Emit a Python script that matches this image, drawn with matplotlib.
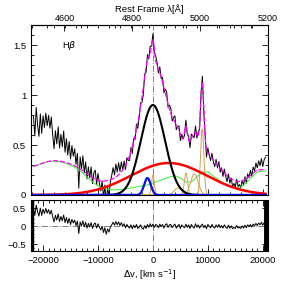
import numpy as np
import matplotlib
matplotlib.use("Agg")
import matplotlib.pyplot as plt
from matplotlib.ticker import MultipleLocator, FixedLocator

plt.rcParams["font.family"] = ["Liberation Sans", "DejaVu Sans"]

C_KMS = 299792.458
LAM0 = 4861.33

# spectrum sampling (km/s)
v_start = -21750
v_step = 250

# residual (data - model)
resid = [
    0.50, 0.30, 0.58, 0.40, 0.28, 0.50, 0.30, 0.47, 0.35, 0.49,
    0.36, 0.46, 0.33, 0.44, 0.26, 0.12, 0.30, 0.17, 0.34, 0.13,
    0.27, 0.15, 0.31, 0.10, 0.24, 0.08, 0.22, 0.05, 0.19, 0.09,
    0.17, 0.02, 0.14, -0.20, 0.12, 0.01, 0.15, -0.01, 0.11, -0.05,
    0.08, -0.02, 0.10, -0.06, 0.06, 0.09, -0.05, 0.07, -0.02, -0.10,
    0.00, -0.17, -0.04, -0.22, -0.07, -0.16, -0.02, 0.04, 0.11, 0.03,
    0.13, 0.04, 0.12, 0.02, 0.10, 0.00, 0.07, -0.04, 0.05, -0.01,
    -0.05, 0.04, -0.07, 0.03, -0.04, 0.05, -0.06, -0.02, 0.04, -0.05,
    -0.08, 0.02, -0.06, 0.05, -0.03, 0.07, -0.01, 0.06, -0.03, 0.05,
    0.03, -0.04, 0.06, -0.01, 0.05, -0.05, 0.04, 0.07, -0.03, 0.04,
    0.05, -0.04, 0.02, 0.06, -0.05, 0.01, 0.05, -0.06, 0.04, -0.01,
    -0.04, 0.06, -0.03, 0.04, -0.06, 0.05, -0.01, -0.05, 0.07, -0.03,
    0.04, -0.05, 0.02, 0.06, -0.04, 0.03, -0.07, 0.05, 0.00, -0.04,
    0.05, -0.02, -0.05, 0.04, -0.03, 0.05, -0.04, 0.02, -0.05, 0.04,
    -0.02, -0.06, 0.03, -0.05, 0.01, -0.07, -0.03, -0.06, 0.02, -0.05,
    -0.03, -0.06, 0.01, -0.05, 0.03, -0.04, 0.04, -0.01, 0.05, -0.02,
    0.06, 0.01, 0.08, 0.02, 0.09, 0.04, 0.11, 0.03, 0.10, 0.13,
]

# Fe II template, sampled every 1000 km/s from -22000 to 21000
feii_v0 = -22000
feii_step = 1000
feii = [
    0.28, 0.30, 0.32, 0.335, 0.34, 0.335, 0.32, 0.30, 0.27, 0.23,
    0.18, 0.13, 0.09, 0.065, 0.055, 0.05, 0.055, 0.06, 0.07, 0.08,
    0.09, 0.10, 0.12, 0.14, 0.16, 0.18, 0.195, 0.17, 0.13, 0.13,
    0.18, 0.23, 0.23, 0.19, 0.15, 0.11, 0.08, 0.07, 0.08, 0.12,
    0.18, 0.23, 0.24, 0.235,
]

# gaussian components: centre (km/s), sigma (km/s), peak
bc_par = (0, 2200, 0.90)        # Hbeta broad (black)
vbc_par = (2900, 6900, 0.32)    # very broad (red)
blue_par = (-1000, 600, 0.17)   # blueshifted (blue)
nl_centres = [0, 6018, 8973, 4600, 7550]   # Hb NC, [OIII] NC x2, [OIII] wings x2
nl_sigmas = [250, 300, 300, 700, 700]
nl_peaks = [0.20, 0.22, 0.66, 0.07, 0.21]

lam_ticks = [4600, 4800, 5000, 5200]


def gauss(v, par):
    c, s, a = par
    return a * np.exp(-(v - c) ** 2 / (2.0 * s ** 2))


def v2lam(v):
    return LAM0 * (1 + v / C_KMS)


def lam2v(lam):
    return (lam / LAM0 - 1) * C_KMS


def style_axis(ax):
    ax.tick_params(which="both", direction="in", top=True, right=True,
                   labelsize=6.8, width=0.6, colors="black")
    ax.tick_params(which="major", length=4)
    ax.tick_params(which="minor", length=2)
    for sp in ax.spines.values():
        sp.set_linewidth(0.8)


def main():
    v = v_start + v_step * np.arange(len(resid))
    vf = feii_v0 + feii_step * np.arange(len(feii))
    fe = np.interp(v, vf, feii)

    comps = [gauss(v, bc_par), gauss(v, vbc_par), gauss(v, blue_par)]
    narrow = [gauss(v, (c, s, a)) for c, s, a in zip(nl_centres, nl_sigmas, nl_peaks)]
    model = fe + sum(comps) + sum(narrow)
    flux = model + np.array(resid)

    # fine grid for smooth model curves
    vv = np.linspace(v[0], v[-1], 1200)
    fe_f = np.interp(vv, vf, feii)
    bc_f = gauss(vv, bc_par)
    vbc_f = gauss(vv, vbc_par)
    blue_f = gauss(vv, blue_par)
    nl_f = [gauss(vv, (c, s, a)) for c, s, a in zip(nl_centres, nl_sigmas, nl_peaks)]
    tot_f = fe_f + bc_f + vbc_f + blue_f + sum(nl_f)

    fig = plt.figure(figsize=(2.83, 2.83), dpi=100)
    ax = fig.add_axes([0.1095, 0.311, 0.8375, 0.6005])
    axr = fig.add_axes([0.1095, 0.113, 0.8375, 0.180])

    xlim = (-22200, 20950)

    ax.plot(v, flux, color="black", lw=0.7, zorder=3)
    ax.plot(vv, fe_f, color="#33ee33", lw=0.7, zorder=4)
    for n in nl_f:
        ax.plot(vv, n, color="#d4a050", lw=0.7, zorder=4)
    ax.plot(vv, vbc_f, color="red", lw=1.8, zorder=5)
    ax.plot(vv, bc_f, color="black", lw=1.5, zorder=5)
    ax.plot(vv, blue_f, color="#0010ee", lw=1.6, zorder=6)
    ax.plot(vv, tot_f, color="magenta", lw=0.9, ls=(0, (4, 1.5)), zorder=7)
    ax.axvline(0, color="gray", lw=0.7, ls="-.", zorder=2)

    ax.set_xlim(*xlim)
    ax.set_ylim(0, 1.70)
    ax.xaxis.set_major_locator(MultipleLocator(10000))
    ax.xaxis.set_minor_locator(MultipleLocator(2000))
    ax.yaxis.set_minor_locator(MultipleLocator(0.1))
    ax.set_yticks([0, 0.5, 1, 1.5])
    ax.set_yticklabels(["0", "0.5", "1", "1.5"])
    style_axis(ax)
    ax.tick_params(labelbottom=False, top=False)
    ax.text(-16600, 1.47, r"H$\beta$", fontsize=6.8)

    sec = ax.secondary_xaxis("top", functions=(v2lam, lam2v))
    sec.xaxis.set_major_locator(FixedLocator(lam_ticks))
    sec.xaxis.set_minor_locator(MultipleLocator(50))
    sec.tick_params(which="both", direction="in", labelsize=6.5, width=0.6, pad=1.5)
    sec.tick_params(which="major", length=4)
    sec.tick_params(which="minor", length=2)
    sec.set_xlabel("Rest Frame λ[Å]", fontsize=6.8, labelpad=1.5)

    axr.plot(v, resid, color="black", lw=0.7, zorder=3)
    axr.axhline(0, color="gray", lw=0.7, ls="-.", zorder=2)
    axr.axvline(0, color="gray", lw=0.7, ls="-.", zorder=2)
    axr.axvline(-21950, color="black", lw=2.4, zorder=4)
    axr.axvline(20620, color="black", lw=2.8, zorder=4)
    axr.set_xlim(*xlim)
    axr.set_ylim(-0.68, 0.72)
    axr.xaxis.set_major_locator(MultipleLocator(10000))
    axr.xaxis.set_minor_locator(MultipleLocator(1000))
    axr.yaxis.set_minor_locator(MultipleLocator(0.1))
    axr.set_yticks([-0.5, 0, 0.5])
    axr.set_yticklabels(["\u22120.5", "0", "0.5"])
    style_axis(axr)
    axr.set_xlabel(r"$\Delta$v, [km s$^{-1}$]", fontsize=6.8, labelpad=2)

    fig.savefig("out.png", dpi=100)


if __name__ == "__main__":
    main()
